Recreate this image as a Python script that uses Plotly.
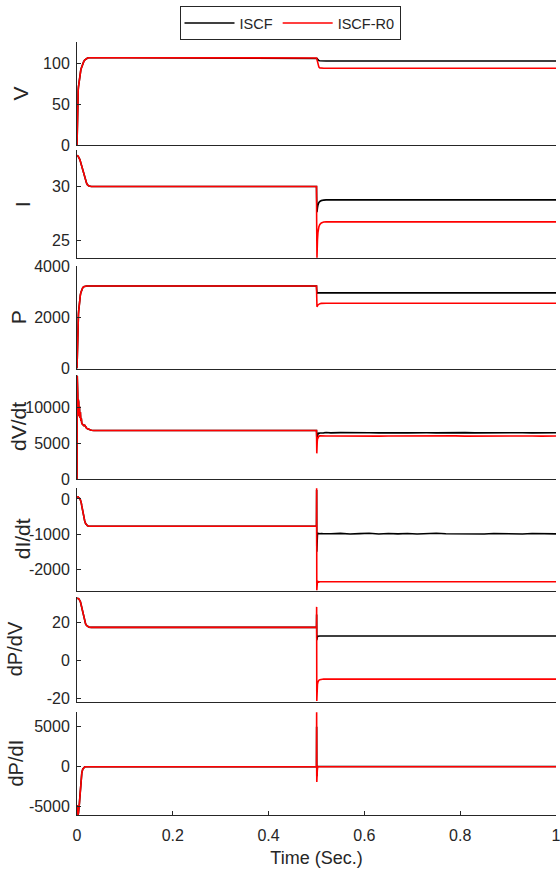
import plotly.graph_objects as go

# ---------------- data ----------------
series_names = ["ISCF", "ISCF-R0"]

# start-up transient grid (shared by both controllers: curves coincide before the step)
t_pre = [0, 0.0005, 0.001, 0.0015, 0.002, 0.0025, 0.003, 0.0035, 0.004, 0.005,
         0.006, 0.007, 0.008, 0.009, 0.01, 0.012, 0.014, 0.016, 0.018, 0.02,
         0.022, 0.025, 0.03, 0.035, 0.04, 0.1, 0.2, 0.3, 0.4, 0.5]
# step transient grid
t_post = [0.5003, 0.5006, 0.501, 0.5015, 0.502, 0.503, 0.504, 0.505, 0.507, 0.51, 0.515, 0.52]
t_end = [1.0]
t_noise = [0.53, 0.55, 0.57, 0.59, 0.61, 0.63, 0.65, 0.67, 0.69, 0.71, 0.73, 0.75,
           0.77, 0.79, 0.81, 0.83, 0.85, 0.87, 0.89, 0.91, 0.93, 0.95, 0.97, 0.99, 1.0]

# V
V_pre = [0, 35, 52, 58, 63, 67, 71, 74, 77, 82, 86, 89, 92, 94, 96, 99.5, 102, 104, 105.2, 106,
         106.4, 106.7, 106.8, 106.8, 106.8, 106.8, 106.8, 106.8, 106.8, 106.8]
V_post_iscf = [106.6, 106.3, 105.9, 105.4, 104.9, 104.2, 103.7, 103.4, 103.1, 102.9, 102.8, 102.8]
V_end_iscf = [102.8]
V_post_r0 = [106.4, 105.5, 104.2, 102.5, 100.8, 98.2, 96.5, 95.3, 94.3, 93.9, 93.8, 93.8]
V_end_r0 = [93.8]

# I
I_pre = [32.9, 32.9, 32.88, 32.86, 32.84, 32.8, 32.77, 32.73, 32.7, 32.6, 32.5, 32.35, 32.2, 32.05,
         31.9, 31.6, 31.2, 30.8, 30.5, 30.3, 30.15, 30.05, 30.0, 30.0, 30.0, 30.0, 30.0, 30.0, 30.0, 30.0]
I_post_iscf = [29.0, 27.9, 27.6, 27.8, 28.0, 28.25, 28.4, 28.5, 28.6, 28.68, 28.73, 28.75]
I_end_iscf = [28.75]
I_post_r0 = [27.0, 24.0, 23.35, 24.3, 25.0, 25.7, 26.05, 26.25, 26.45, 26.6, 26.68, 26.7]
I_end_r0 = [26.7]

# P
P_pre = [0, 700, 1200, 1500, 1750, 1950, 2120, 2250, 2380, 2580, 2740, 2860, 2960, 3030, 3080,
         3150, 3190, 3210, 3220, 3220, 3220, 3220, 3220, 3220, 3220, 3220, 3220, 3220, 3220, 3220]
P_post_iscf = [3100, 2960, 2930, 2935, 2945, 2950, 2950, 2950, 2950, 2950, 2950, 2950]
P_end_iscf = [2950]
P_post_r0 = [2950, 2550, 2410, 2420, 2440, 2480, 2500, 2515, 2530, 2540, 2545, 2545]
P_end_r0 = [2545]

# dV/dt
dVdt_pre = [0, 14500, 9500, 12000, 8800, 11200, 9400, 10800, 9000, 10200, 8600, 9400, 8200, 8500,
            7800, 7600, 7500, 7550, 7300, 7150, 7050, 6950, 6850, 6800, 6800, 6800, 6800, 6800, 6800, 6800]
dVdt_post_iscf = [6500, 5800, 5900, 6200, 6000, 6300, 6500, 6400, 6450, 6500, 6480, 6520]
dVdt_tail_iscf = [6480, 6510, 6470, 6500, 6490, 6470, 6510, 6500, 6480, 6520, 6490, 6470, 6500,
                  6480, 6510, 6480, 6500, 6510, 6470, 6490, 6500, 6480, 6510, 6480, 6500]
dVdt_post_r0 = [5500, 3600, 4200, 5200, 5600, 5800, 5900, 6000, 6050, 6030, 6050, 6040]
dVdt_tail_r0 = [6040, 6020, 6050, 6030, 6045, 6020, 6040, 6055, 6025, 6040, 6020, 6045, 6030,
                6050, 6025, 6040, 6020, 6045, 6030, 6050, 6025, 6040, 6020, 6045, 6030]

# dI/dt
dIdt_pre = [60, 65, 65, 62, 58, 54, 50, 45, 40, 25, 5, -25, -60, -120, -200, -360, -510, -620,
            -700, -740, -765, -775, -780, -780, -775, -775, -775, -775, -775, -775]
dIdt_post_iscf = [250, -1500, -1100, -950, -1000, -980, -990, -985, -990, -980, -990, -985]
dIdt_tail_iscf = [-988, -978, -996, -986, -975, -994, -982, -992, -980, -998, -986, -976, -990,
                  -995, -982, -987, -997, -980, -990, -984, -995, -982, -990, -986, -992]
dIdt_post_r0 = [300, -2600, -2250, -2450, -2320, -2380, -2340, -2360, -2350, -2350, -2355, -2350]
dIdt_tail_r0 = [-2348, -2360, -2345, -2354, -2342, -2357, -2350, -2344, -2362, -2348, -2355, -2342,
                -2357, -2348, -2351, -2360, -2345, -2354, -2348, -2357, -2343, -2350, -2359, -2347, -2353]

# dP/dV
dPdV_pre = [32.6, 32.6, 32.6, 32.55, 32.5, 32.45, 32.4, 32.3, 32.2, 31.9, 31.5, 30.8, 29.8, 28.6,
            27.2, 24.5, 22.0, 20.2, 19.0, 18.2, 17.7, 17.35, 17.2, 17.2, 17.2, 17.2, 17.2, 17.2, 17.2, 17.2]
dPdV_post_iscf = [24, 10.5, 11.5, 12.0, 12.3, 12.5, 12.6, 12.6, 12.7, 12.7, 12.7, 12.7]
dPdV_tail_iscf = [12.7, 12.85, 12.6, 12.8, 12.55, 12.7, 12.85, 12.6, 12.7, 12.8, 12.6, 12.85, 12.7,
                  12.55, 12.8, 12.7, 12.6, 12.85, 12.7, 12.8, 12.6, 12.7, 12.85, 12.6, 12.7]
dPdV_post_r0 = [28, -21.5, -16, -14, -12.8, -11.6, -11, -10.6, -10.3, -10.1, -10.0, -10.0]
dPdV_tail_r0 = [-10.0, -9.9, -10.1, -9.95, -10.05, -9.9, -10.0, -10.1, -9.95, -10.0, -9.9, -10.05,
                -10.0, -9.95, -10.1, -10.0, -9.9, -10.05, -10.0, -9.95, -10.0, -10.1, -9.9, -10.0, -10.0]

# dP/dI
dPdI_pre = [-4800, -5400, -5700, -5900, -6000, -5950, -5800, -5600, -5300, -4600, -3800, -2900,
            -2000, -1300, -800, -300, -100, -30, 0, 0, 0, 0, 0, 0, 0, 0, 0, 0, 0, 0]
dPdI_post_iscf = [5000, -1200, 50, 30, 20, 20, 20, 20, 20, 20, 20, 20]
dPdI_end_iscf = [20]
dPdI_post_r0 = [6800, -1900, 150, -50, 0, 0, 0, 0, 0, 0, 0, 0]
dPdI_end_r0 = [0]

# axis labels / ticks
y_titles = ["V", "I", "P", "dV/dt", "dI/dt", "dP/dV", "dP/dI"]
y_ranges = [[0, 126], [23.3, 33.4], [0, 4000], [0, 14600], [-2600, 310], [-21.8, 33.2], [-6040, 6840]]
y_ticks = [[0, 50, 100], [25, 30], [0, 2000, 4000], [0, 5000, 10000],
           [-2000, -1000, 0], [-20, 0, 20], [-5000, 0, 5000]]
y_tick_text = [["0", "50", "100"], ["25", "30"], ["0", "2000", "4000"], ["0", "5000", "10000"],
               ["-2000", "-1000", "0"], ["-20", "0", "20"], ["-5000", "0", "5000"]]
x_ticks = [0, 0.2, 0.4, 0.6, 0.8, 1]
x_tick_text = ["0", "0.2", "0.4", "0.6", "0.8", "1"]
x_title = "Time (Sec.)"

# ---------------- assemble ----------------
panels = [
    (V_pre, V_post_iscf, t_end, V_end_iscf, V_post_r0, t_end, V_end_r0),
    (I_pre, I_post_iscf, t_end, I_end_iscf, I_post_r0, t_end, I_end_r0),
    (P_pre, P_post_iscf, t_end, P_end_iscf, P_post_r0, t_end, P_end_r0),
    (dVdt_pre, dVdt_post_iscf, t_noise, dVdt_tail_iscf, dVdt_post_r0, t_noise, dVdt_tail_r0),
    (dIdt_pre, dIdt_post_iscf, t_noise, dIdt_tail_iscf, dIdt_post_r0, t_noise, dIdt_tail_r0),
    (dPdV_pre, dPdV_post_iscf, t_noise, dPdV_tail_iscf, dPdV_post_r0, t_noise, dPdV_tail_r0),
    (dPdI_pre, dPdI_post_iscf, t_end, dPdI_end_iscf, dPdI_post_r0, t_end, dPdI_end_r0),
]

# the page's body margin is removed (post_script below), so figure pixels == window pixels
W, H = 560, 872
ax_left, ax_right = 77, 556
# (top, bottom) pixel extents of each panel
panel_px = [(42, 145), (150, 258.3), (266, 368.5), (375, 479), (488, 590.5), (597, 701.5), (712, 815)]
ylab_x = [20, 22, 18, 18, 22, 15, 15]
ylab_size = [21, 21, 21, 21, 21, 20, 20]


def py(v):
    return 1 - v / H


def px(v):
    return v / W


AX = "#262626"
FONT = "Liberation Sans, Arial, sans-serif"
colors = ["#000000", "#ff0000"]

fig = go.Figure()
layout = dict(
    width=W, height=H, margin=dict(l=0, r=0, t=0, b=0, autoexpand=False),
    paper_bgcolor="white", plot_bgcolor="white",
    font=dict(family=FONT, size=16, color=AX),
    showlegend=True,
    legend=dict(orientation="h", x=px(290), xanchor="center", y=py(6), yanchor="top",
                bordercolor=AX, borderwidth=1, font=dict(size=14.5, color=AX),
                bgcolor="white", itemwidth=50, tracegroupgap=0),
)
annotations = []

for k, (pre, p_i, tt_i, tail_i, p_r, tt_r, tail_r) in enumerate(panels):
    n = k + 1
    assert len(pre) == len(t_pre)
    assert len(p_i) == len(t_post) and len(p_r) == len(t_post)
    assert len(tail_i) == len(tt_i) and len(tail_r) == len(tt_r)
    xs_i = t_pre + t_post + tt_i
    ys_i = pre + p_i + tail_i
    xs_r = t_pre + t_post + tt_r
    ys_r = pre + p_r + tail_r
    xa = "x" if n == 1 else f"x{n}"
    ya = "y" if n == 1 else f"y{n}"
    for name, xs, ys, col in [(series_names[0], xs_i, ys_i, colors[0]),
                              (series_names[1], xs_r, ys_r, colors[1])]:
        fig.add_trace(go.Scatter(x=xs, y=ys, mode="lines", name=name,
                                 line=dict(color=col, width=1.6),
                                 xaxis=xa, yaxis=ya, showlegend=(n == 1),
                                 legendgroup=name))
    top, bot = panel_px[k]
    dom_y = [py(bot), py(top)]
    last = (n == len(panels))
    xkey = "xaxis" if n == 1 else f"xaxis{n}"
    ykey = "yaxis" if n == 1 else f"yaxis{n}"
    layout[xkey] = dict(
        domain=[ax_left / W, ax_right / W], range=[0, 1], anchor=ya,
        showline=True, linecolor=AX, linewidth=1, mirror=False,
        showgrid=False, zeroline=False,
        ticks="inside" if last else "", ticklen=4, tickcolor=AX,
        tickvals=x_ticks, ticktext=x_tick_text,
        showticklabels=last, tickfont=dict(size=16, color=AX),
        ticklabelstandoff=6, ticklabeloverflow="allow",
    )
    if last:
        layout[xkey]["title"] = dict(text=x_title, font=dict(size=18, color=AX), standoff=8)
    if n > 1:
        layout[xkey]["matches"] = "x"
    layout[ykey] = dict(
        domain=dom_y, range=y_ranges[k], anchor=xa,
        showline=True, linecolor=AX, linewidth=1, mirror=False,
        showgrid=False, zeroline=False,
        ticks="inside", ticklen=4, tickcolor=AX,
        tickvals=y_ticks[k], ticktext=y_tick_text[k], tickfont=dict(size=16, color=AX),
        ticklabelstandoff=3, ticklabeloverflow="allow",
    )
    annotations.append(dict(
        text=y_titles[k], xref="paper", yref="paper",
        x=px(ylab_x[k]), y=py((top + bot) / 2),
        xanchor="center", yanchor="middle", textangle=-90, showarrow=False,
        font=dict(family=FONT, size=ylab_size[k], color=AX),
    ))

layout["annotations"] = annotations
fig.update_layout(**layout)
fig.write_html(
    "out.html",
    config={"displayModeBar": False},
    post_script="document.body.style.margin='0';document.body.style.overflow='hidden';",
)
